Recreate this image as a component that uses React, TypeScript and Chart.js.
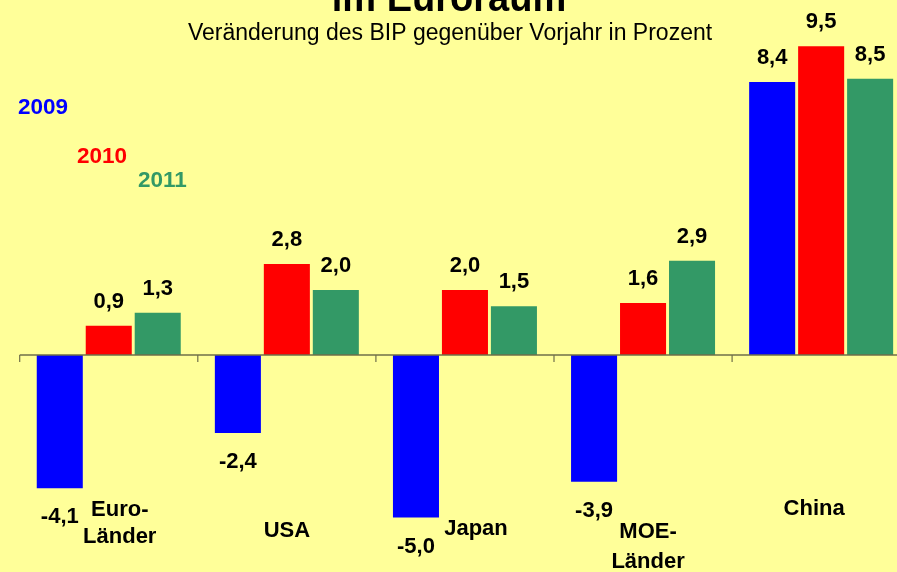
import React, { useEffect, useRef } from "react";
import { Chart, registerables } from "chart.js";

Chart.register(...registerables);

const categories = ["Euro-Länder", "USA", "Japan", "MOE-Länder", "China"];
const categoryLines = [["Euro-", "Länder"], ["USA"], ["Japan"], ["MOE-", "Länder"], ["China"]];
const years = ["2009", "2010", "2011"];
const values2009 = [-4.1, -2.4, -5.0, -3.9, 8.4];
const values2010 = [0.9, 2.8, 2.0, 1.6, 9.5];
const values2011 = [1.3, 2.0, 1.5, 2.9, 8.5];
const yMin = -6.5;
const yMax = 10.5;

const titleText = "im Euroraum";
const subtitleText = "Veränderung des BIP gegenüber Vorjahr in Prozent";

const colors = ["#0000FF", "#FF0000", "#339966"];
const FONT = "'Liberation Sans', Arial, sans-serif";

const W = 920;
const H = 572;

const fmt = (v: number) => v.toFixed(1).replace(".", ",");

const overlayPlugin = {
  id: "overlay",
  afterDatasetsDraw(chart: any) {
    const ctx = chart.ctx as CanvasRenderingContext2D;
    const xs = chart.scales.x;
    const ys = chart.scales.y;
    const area = chart.chartArea;
    const zeroY = ys.getPixelForValue(0);
    ctx.save();

    // axis line and tick marks at category boundaries
    ctx.strokeStyle = "#6f6f4a";
    ctx.lineWidth = 1.5;
    ctx.beginPath();
    ctx.moveTo(area.left, zeroY);
    ctx.lineTo(area.right, zeroY);
    ctx.stroke();
    const n = categories.length;
    const step = (area.right - area.left) / n;
    ctx.lineWidth = 1.2;
    for (let i = 0; i <= n; i++) {
      const bx = area.left + i * step;
      ctx.beginPath();
      ctx.moveTo(bx, zeroY);
      ctx.lineTo(bx, zeroY + 7);
      ctx.stroke();
    }

    // value labels
    ctx.fillStyle = "#000";
    ctx.font = `bold 22px ${FONT}`;
    ctx.textAlign = "center";
    ctx.textBaseline = "alphabetic";
    chart.data.datasets.forEach((ds: any, di: number) => {
      const meta = chart.getDatasetMeta(di);
      meta.data.forEach((bar: any, i: number) => {
        const v = ds.data[i];
        if (v >= 0) {
          ctx.fillText(fmt(v), bar.x, bar.y - 18);
        } else {
          ctx.fillText(fmt(v), bar.x, bar.y + 35);
        }
      });
    });

    // category labels
    const labelOffsets = [
      { dx: 11, dy: [161, 188] },
      { dx: 0, dy: [182] },
      { dx: 11, dy: [180] },
      { dx: 5, dy: [183, 213] },
      { dx: -7, dy: [160] },
    ];
    categoryLines.forEach((lines, i) => {
      const cx = xs.getPixelForValue(i) + labelOffsets[i].dx;
      lines.forEach((ln, j) => {
        ctx.fillText(ln, cx, zeroY + labelOffsets[i].dy[j]);
      });
    });

    // year labels
    ctx.textAlign = "left";
    const yearPos = [
      { x: 18, y: 114 },
      { x: 77, y: 163 },
      { x: 138, y: 187 },
    ];
    ctx.font = `bold 22.5px ${FONT}`;
    years.forEach((yr, i) => {
      ctx.fillStyle = colors[i];
      ctx.fillText(yr, yearPos[i].x, yearPos[i].y);
    });

    // title and subtitle
    ctx.fillStyle = "#000";
    ctx.textAlign = "center";
    ctx.font = `bold 38px ${FONT}`;
    ctx.fillText(titleText, 449, 11);
    ctx.font = `23px ${FONT}`;
    ctx.fillText(subtitleText, 450, 40);

    ctx.restore();
  },
};

export default function App() {
  const ref = useRef<HTMLCanvasElement | null>(null);
  useEffect(() => {
    if (!ref.current) return;
    const chart = new Chart(ref.current, {
      type: "bar",
      data: {
        labels: categories,
        datasets: [values2009, values2010, values2011].map((vals, i) => ({
          label: years[i],
          data: vals,
          backgroundColor: colors[i],
          borderWidth: 0,
          barPercentage: 0.94,
          categoryPercentage: 0.825,
        })),
      },
      options: {
        responsive: false,
        animation: false,
        devicePixelRatio: 1,
        layout: { padding: { left: 19.7, right: W - 910.2, top: 13.75, bottom: 5.75 } },
        plugins: { legend: { display: false }, tooltip: { enabled: false }, title: { display: false } },
        scales: {
          x: { display: false },
          y: { display: false, min: yMin, max: yMax },
        },
      },
      plugins: [overlayPlugin],
    });
    return () => chart.destroy();
  }, []);
  return (
    <div
      style={{
        position: "fixed",
        left: 0,
        top: 0,
        width: 897,
        height: 572,
        overflow: "hidden",
        background: "#FFFF99",
      }}
    >
      <canvas ref={ref} width={W} height={H} style={{ width: W, height: H, display: "block" }} />
    </div>
  );
}
